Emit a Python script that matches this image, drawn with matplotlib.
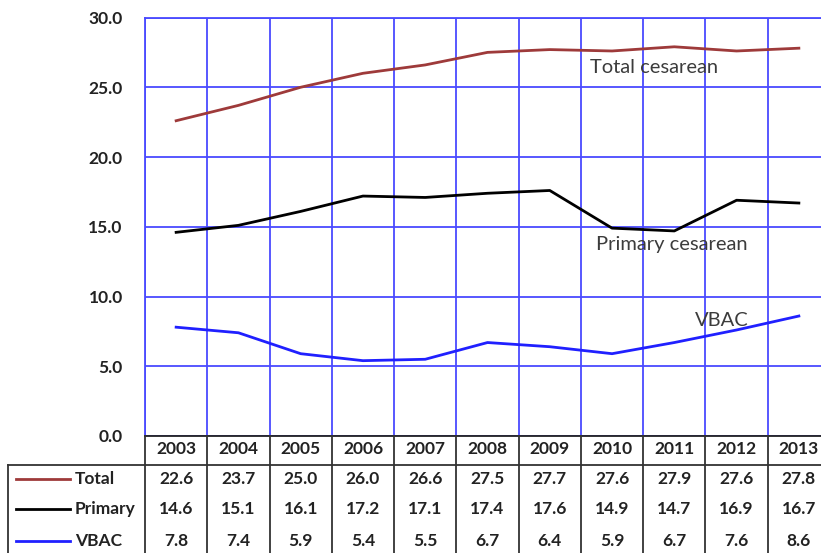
import matplotlib
matplotlib.use("Agg")
import matplotlib.pyplot as plt

years = ["2003", "2004", "2005", "2006", "2007", "2008", "2009", "2010", "2011", "2012", "2013"]
total = [22.6, 23.7, 25.0, 26.0, 26.6, 27.5, 27.7, 27.6, 27.9, 27.6, 27.8]
primary = [14.6, 15.1, 16.1, 17.2, 17.1, 17.4, 17.6, 14.9, 14.7, 16.9, 16.7]
vbac = [7.8, 7.4, 5.9, 5.4, 5.5, 6.7, 6.4, 5.9, 6.7, 7.6, 8.6]

series = [
    ("Total", total, "#9e3a3a"),
    ("Primary", primary, "#000000"),
    ("VBAC", vbac, "#2020ff"),
]

plt.rcParams["font.family"] = ["Lato", "DejaVu Sans"]

W, H = 821, 553
fig = plt.figure(figsize=(W / 100, H / 100), dpi=100)

# plot area in pixels: left edge, right edge (runs past the figure), top, bottom
px_left, px_right, px_top, px_bottom = 145, 830, 17.5, 436
cat_w = (px_right - px_left) / len(years)

ax = fig.add_axes([px_left / W, (H - px_bottom) / H,
                   (px_right - px_left) / W, (px_bottom - px_top) / H])
ax.set_xlim(-0.5, len(years) - 0.5)
ax.set_ylim(0, 30)

grid_col = "#4a4aff"
x = range(len(years))
for name, vals, col in series:
    ax.plot(x, vals, color=col, lw=2.0, solid_joinstyle="round", zorder=3)

fs = 12.5
ax.set_yticks(range(0, 31, 5))
ax.set_yticklabels([f"{v:.1f}" for v in range(0, 31, 5)], fontsize=fs,
                   fontweight="bold", color="#222222")
ax.tick_params(axis="y", length=0, pad=16)
ax.set_xticks([i - 0.5 for i in range(len(years) + 1)])
ax.set_xticklabels([])
ax.tick_params(axis="x", length=0)
ax.grid(True, color=grid_col, lw=1.3)
for s in ["left", "top"]:
    ax.spines[s].set_color(grid_col)
    ax.spines[s].set_linewidth(1.3)
ax.spines["right"].set_visible(False)
ax.spines["bottom"].set_color("#222222")
ax.spines["bottom"].set_linewidth(1.3)

# labels next to the lines
lab_kw = dict(fontsize=14.5, color="#3c3c3c", va="center", ha="left", zorder=4)
ax.text(6.64, 26.4, "Total cesarean", **lab_kw)
ax.text(6.74, 13.7, "Primary cesarean", **lab_kw)
ax.text(8.33, 8.25, "VBAC", **lab_kw)

# data table under the chart, sharing the category columns
tbl_left = 8
tx0 = -0.5 - (px_left - tbl_left) / cat_w
tax = fig.add_axes([tbl_left / W, 0, (px_right - tbl_left) / W, (H - px_bottom) / H])
tax.set_xlim(tx0, len(years) - 0.5)
tax.set_ylim(H - px_bottom, 0)
tax.axis("off")

tcol = "#333333"
row_top = 28.5
tax.plot([tx0, len(years) - 0.5], [row_top, row_top], color=tcol, lw=1.3, clip_on=False)
tax.plot([tx0, tx0], [row_top, H], color=tcol, lw=1.3, clip_on=False)
for i in range(len(years) + 1):
    tax.plot([i - 0.5, i - 0.5], [0, H], color=tcol, lw=1.3, clip_on=False)

txt_kw = dict(fontsize=fs, fontweight="bold", color="#222222", ha="center", va="center")
for i, yr in enumerate(years):
    tax.text(i, 13, yr, **txt_kw)

row_y = [43, 73, 105]
key_x0 = -0.5 - (px_left - 16) / cat_w
key_x1 = -0.5 - (px_left - 70) / cat_w
name_x = -0.5 - (px_left - 75) / cat_w
for (name, vals, col), ry in zip(series, row_y):
    tax.plot([key_x0, key_x1], [ry, ry], color=col, lw=2.0)
    tax.text(name_x, ry, name, fontsize=fs, fontweight="bold", color="#222222",
             ha="left", va="center")
    for i, v in enumerate(vals):
        tax.text(i, ry, f"{v:.1f}", **txt_kw)

fig.savefig("out.png", dpi=100)
